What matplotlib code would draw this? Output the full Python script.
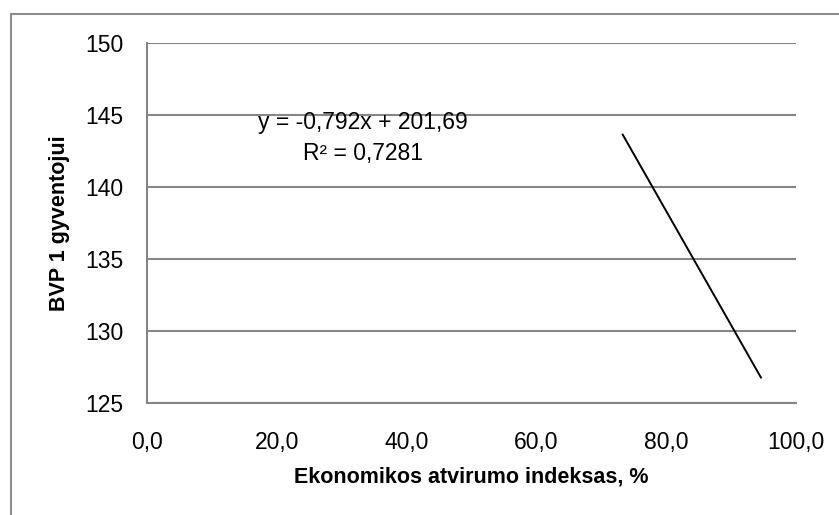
import matplotlib
matplotlib.use("Agg")
import matplotlib.pyplot as plt
from matplotlib.patches import Rectangle
import numpy as np

# Data
slope = -0.792
intercept = 201.69
r2 = 0.7281
x_range = [73.3, 94.6]
x_ticks = [0, 20, 40, 60, 80, 100]
x_tick_labels = ["0,0", "20,0", "40,0", "60,0", "80,0", "100,0"]
y_ticks = [125, 130, 135, 140, 145, 150]
y_tick_labels = ["125", "130", "135", "140", "145", "150"]

plt.rcParams['font.family'] = ['Liberation Sans', 'DejaVu Sans']

fig = plt.figure(figsize=(8.39, 5.15), dpi=100)
# outer chart frame
fig.patches.append(Rectangle((11/839, -0.1), 1.2, 1 - 14/515 + 0.1, transform=fig.transFigure,
                             fill=False, edgecolor='#8c8c8c', linewidth=1.5))

ax = fig.add_axes([147/839, 1 - 403/515, (796 - 147)/839, (403 - 43)/515])
xs = np.array(x_range)
ax.plot(xs, slope * xs + intercept, color='black', linewidth=1.4)

ax.set_xlim(0, 100)
ax.set_ylim(125, 150)
ax.set_xticks(x_ticks)
ax.set_xticklabels(x_tick_labels)
ax.set_yticks(y_ticks)
ax.set_yticklabels(y_tick_labels)
ax.tick_params(length=0, labelsize=16.5)
ax.tick_params(axis='x', pad=20)
ax.tick_params(axis='y', pad=17)
ax.grid(axis='y', color='#868686', linewidth=1.5)
ax.set_axisbelow(True)
for s in ['top', 'right']:
    ax.spines[s].set_visible(False)
for s in ['left', 'bottom']:
    ax.spines[s].set_color('#868686')
    ax.spines[s].set_linewidth(1.5)

ax.set_xlabel("Ekonomikos atvirumo indeksas, %", fontsize=15.5, fontweight='bold')
ax.set_ylabel("BVP 1 gyventojui", fontsize=15.5, fontweight='bold')
ax.xaxis.set_label_coords(0.5, -0.175)
ax.yaxis.set_label_coords(-0.118, 0.5)

ax.text(17.1, 144.5, "y = -0,792x + 201,69", fontsize=16.5, ha='left', va='center')
ax.text(24.0, 142.3, "R² = 0,7281", fontsize=16.5, ha='left', va='center')

fig.savefig("out.png", dpi=100)
